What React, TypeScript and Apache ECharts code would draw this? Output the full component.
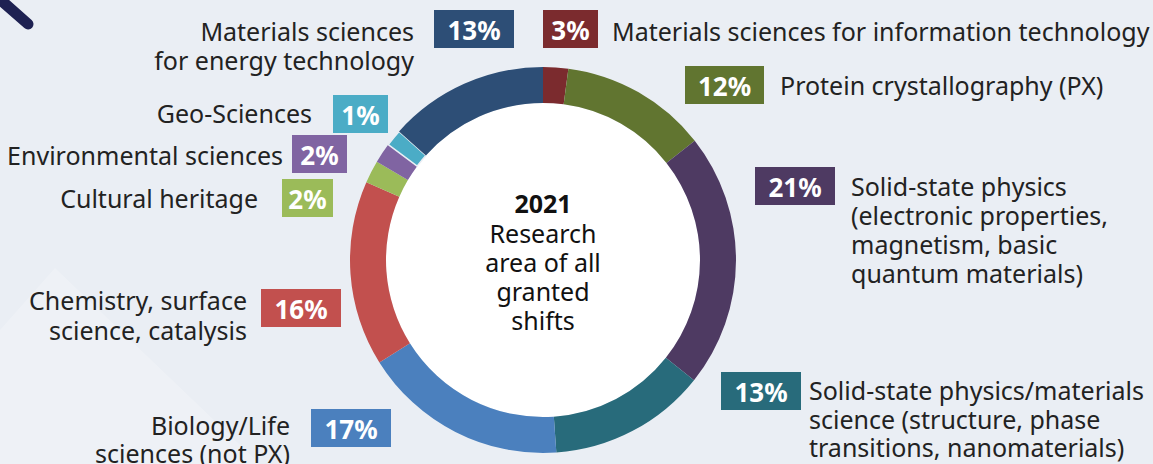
import React, { useEffect, useRef } from "react";
import * as echarts from "echarts";

const categories = [
  "Materials sciences for information technology",
  "Protein crystallography (PX)",
  "Solid-state physics (electronic properties, magnetism, basic quantum materials)",
  "Solid-state physics/materials science (structure, phase transitions, nanomaterials)",
  "Biology/Life sciences (not PX)",
  "Chemistry, surface science, catalysis",
  "Cultural heritage",
  "Environmental sciences",
  "Geo-Sciences",
  "Materials sciences for energy technology",
];
const values = [2.1, 12.3, 21.3, 13.2, 17.2, 15.5, 1.9, 1.7, 1.4, 13.4];
const pctLabels = ["3%", "12%", "21%", "13%", "17%", "16%", "2%", "2%", "1%", "13%"];
const labelLines = [
  ["Materials sciences for information technology"],
  ["Protein crystallography (PX)"],
  ["Solid-state physics", "(electronic properties,", "magnetism, basic", "quantum materials)"],
  ["Solid-state physics/materials", "science (structure, phase", "transitions, nanomaterials)"],
  ["Biology/Life", "sciences (not PX)"],
  ["Chemistry, surface", "science, catalysis"],
  ["Cultural heritage"],
  ["Environmental sciences"],
  ["Geo-Sciences"],
  ["Materials sciences", "for energy technology"],
];
const colors = [
  "#7B2B2E", "#617530", "#4E3A62", "#286B7B", "#4B80BE",
  "#C2504E", "#9BBB59", "#8064A2", "#4BACC6", "#2D4E76",
];
const centerTitle = "2021";
const centerLines = ["Research", "area of all", "granted", "shifts"];

// layout: box [x, y, w, h], text anchor x, align, first line y, line height
const layout: any[] = [
  { box: [543, 10, 55, 38], tx: 612, align: "left", ty: 31, lh: 29 },
  { box: [685, 66, 79, 38], tx: 780, align: "left", ty: 85, lh: 29 },
  { box: [755, 167, 80, 38], tx: 851, align: "left", ty: 186, lh: 29 },
  { box: [721, 372, 80, 38], tx: 809, align: "left", ty: 390, lh: 28.5 },
  { box: [311, 409, 80, 38], tx: 290, align: "right", ty: 425, lh: 27.5 },
  { box: [261, 289, 80, 38], tx: 247, align: "right", ty: 300, lh: 30 },
  { box: [282, 179, 51, 38], tx: 258, align: "right", ty: 198, lh: 29 },
  { box: [292, 135, 55, 38], tx: 283, align: "right", ty: 155, lh: 29 },
  { box: [333, 95, 55, 38], tx: 312, align: "right", ty: 113, lh: 29 },
  { box: [434, 10, 80, 38], tx: 414, align: "right", ty: 31, lh: 29 },
];

const FONT = "'Noto Sans', 'Open Sans', sans-serif";

export default function App() {
  const ref = useRef<HTMLDivElement>(null);
  useEffect(() => {
    const chart = echarts.init(ref.current!, null, { renderer: "svg" });
    const graphics: any[] = [
      {
        type: "polygon",
        silent: true,
        shape: { points: [[0, 330], [55, 268], [260, 464], [0, 464]] },
        style: { fill: "rgba(255,255,255,0.22)" },
        z: -1,
      },
      {
        type: "line",
        silent: true,
        shape: { x1: -6, y1: -6, x2: 28, y2: 24 },
        style: { stroke: "#1E2152", lineWidth: 11, lineCap: "round" },
      },
    ];
    layout.forEach((l, i) => {
      const [bx, by, bw, bh] = l.box;
      graphics.push({
        type: "rect",
        silent: true,
        shape: { x: bx, y: by, width: bw, height: bh },
        style: { fill: colors[i] },
      });
      graphics.push({
        type: "text",
        silent: true,
        x: bx + bw / 2,
        y: by + bh / 2 + 1,
        style: {
          text: pctLabels[i],
          fill: "#ffffff",
          font: `bold 26px ${FONT}`,
          textAlign: "center",
          textVerticalAlign: "middle",
        },
      });
      labelLines[i].forEach((line, j) => {
        graphics.push({
          type: "text",
          silent: true,
          x: l.tx,
          y: l.ty + j * l.lh,
          style: {
            text: line,
            fill: "#222222",
            font: `25px ${FONT}`,
            lineHeight: 26,
            textAlign: l.align,
            textVerticalAlign: "middle",
          },
        });
      });
    });
    graphics.push({
      type: "text",
      silent: true,
      x: 543,
      y: 203,
      z: 50,
      style: {
        text: centerTitle,
        fill: "#111111",
        font: `bold 25px ${FONT}`,
        textAlign: "center",
        textVerticalAlign: "middle",
      },
    });
    centerLines.forEach((line, j) => {
      graphics.push({
        type: "text",
        silent: true,
        x: 543,
        y: 233 + j * 29,
        z: 50,
        style: {
          text: line,
          fill: "#111111",
          font: `25px ${FONT}`,
          lineHeight: 26,
          textAlign: "center",
          textVerticalAlign: "middle",
        },
      });
    });
    graphics.forEach((g) => {
      if (g.z === undefined) g.z = 10;
    });

    chart.setOption({
      animation: false,
      backgroundColor: "#EAEEF4",
      graphic: graphics,
      series: [
        {
          type: "pie",
          center: [543, 260],
          radius: [157, 193],
          startAngle: 90,
          clockwise: true,
          silent: true,
          z: 2,
          label: { show: false },
          labelLine: { show: false },
          emphasis: { disabled: true },
          data: categories.map((c, i) => ({
            name: c,
            value: values[i],
            itemStyle: {
              color: colors[i],
              borderColor: i === 8 ? "#EAEEF4" : colors[i],
              borderWidth: i === 8 ? 1.5 : 0,
            },
          })),
        },
        {
          type: "pie",
          center: [543, 260],
          radius: [0, 157],
          silent: true,
          z: 1,
          label: { show: false },
          labelLine: { show: false },
          emphasis: { disabled: true },
          data: [{ name: "center", value: 1, itemStyle: { color: "#ffffff" } }],
        },
      ],
    });
    return () => chart.dispose();
  }, []);
  return (
    <div
      ref={ref}
      style={{ position: "absolute", left: 0, top: 0, width: 1153, height: 464 }}
    />
  );
}
